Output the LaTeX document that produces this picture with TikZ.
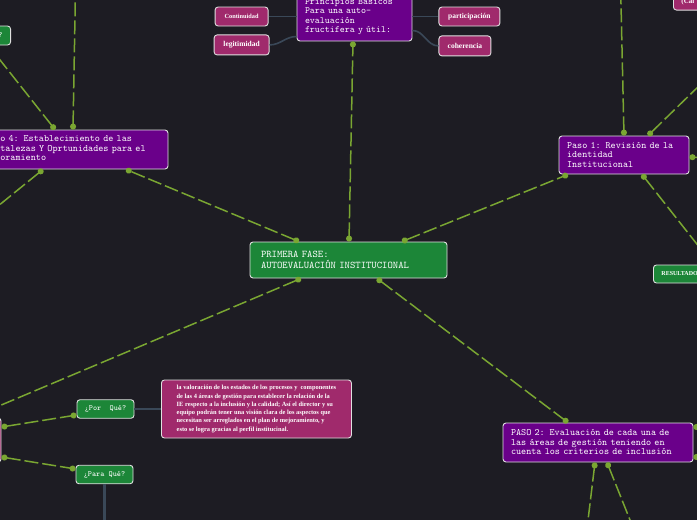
\documentclass[tikz,border=0pt]{standalone}
\usepackage{fontspec}
\setmainfont{Liberation Serif}
\usetikzlibrary{positioning,arrows.meta}

\definecolor{bgdark}{RGB}{29,28,35}
\definecolor{mapgreen}{RGB}{28,134,56}
\definecolor{mappurple}{RGB}{106,0,138}
\definecolor{mappink}{RGB}{160,42,108}
\definecolor{linkgreen}{RGB}{122,166,50}
\definecolor{tiegray}{RGB}{58,72,88}

\begin{document}
\begin{tikzpicture}[x=1pt, y=-1pt,
    box/.style={draw=white!88!black, line width=0.9pt, rounded corners=3pt, text=white, align=left, inner sep=0pt},
    phasebox/.style={box, fill=mapgreen, font=\ttfamily\fontsize{10.2}{10.5}\selectfont, inner xsep=11pt, text width=175pt, minimum height=36pt},
    stepbox/.style={box, fill=mappurple, font=\ttfamily\fontsize{9.7}{9.5}\selectfont, inner xsep=8pt},
    keybox/.style={box, fill=mappink, font=\bfseries\fontsize{7.5}{9}\selectfont},
    askbox/.style={box, fill=mapgreen, font=\ttfamily\fontsize{7.8}{8}\selectfont, minimum width=57pt, minimum height=18.5pt},
    link/.style={draw=linkgreen, line width=1.5pt, dash pattern=on 14pt off 4pt, {Circle[length=6pt]}-{Circle[length=6pt]}},
    tie/.style={draw=tiegray, line width=1.6pt}]
\path[use as bounding box, clip] (0,0) rectangle (697,520);
\fill[bgdark] (0,0) rectangle (697,520);

\node[phasebox] (main) at (348.5,260) {PRIMERA FASE:\\AUTOEVALUACIÓN INSTITUCIONAL};
\node[stepbox, font=\ttfamily\fontsize{9.5}{9.5}\selectfont, text width=99pt, minimum height=49pt] (princ) at (354.5,16.5) {Principios Basicos\\Para una auto-\\evaluación\\fructifera y útil:};
\node[stepbox, text width=114pt, minimum height=38pt] (paso1) at (624,155) {Paso 1: Revisión de la\\identidad\\Institucional};
\node[stepbox, text width=175pt, minimum height=39pt] (paso4) at (72.5,149.5) {Paso 4: Establecimiento de las\\Fortalezas Y Oprtunidades para el\\Mejoramiento};
\node[stepbox, text width=174pt, minimum height=39pt] (paso2) at (598,442.5) {PASO 2: Evaluación de cada una de\\las áreas de gestión teniendo en\\cuenta los criterios de inclusión};

\node[keybox, font=\bfseries\fontsize{6.3}{8}\selectfont, minimum width=53pt, minimum height=19pt, left=28pt of princ] (cont) {Continuidad};
\node[keybox, minimum width=55pt, minimum height=20pt, below=8pt of cont] (legit) {legitimidad};
\node[keybox, minimum width=61pt, minimum height=19pt, right=26pt of princ] (part) {participación};
\node[keybox, minimum width=52pt, minimum height=20pt, below right=9pt and 0pt of part.south west] (coher) {coherencia};

\node[askbox] (porque) at (105.5,409) {¿Por\ \ Qué?};
\node[askbox] (paraque) at (104.5,474.5) {¿Para Qué?};
\node[keybox, font=\bfseries\fontsize{6.4}{8.3}\selectfont, minimum width=190pt, minimum height=58pt, anchor=west] (desc) at (161,409) {la valoración de los estados de los procesos y\ \ componentes\\de las 4 áreas de gestión para establecer la relación de la\\IE respecto a la inclusión y la calidad; Así el director y su\\equipo podrán tener una visión clara de los aspectos que\\necesitan ser arreglados en el plan de mejoramiento, y\\esto se logra gracias al perfil institucinal.};

\node[keybox, minimum width=80pt, minimum height=44pt, anchor=east] (leftnode) at (1.5,440) {};
\node[askbox, minimum width=52pt, minimum height=19pt, text width=36pt, align=right, anchor=east] (topL) at (11,35.5) {?};
\node[keybox, fill=mapgreen, font=\bfseries\fontsize{6}{7}\selectfont, inner xsep=8pt, text width=64pt, minimum height=18pt, anchor=west] (resul) at (653,274) {RESULTADO};
\node[keybox, font=\bfseries\fontsize{7}{8}\selectfont, minimum width=60pt, minimum height=16pt, text width=44pt, anchor=south west] (topR) at (673,10.5) {(Cal};

\coordinate (up4) at (76,-40);
\coordinate (down4) at (-40,237);
\coordinate (up1) at (620,-40);
\coordinate (upright1) at (740,46);
\coordinate (right1) at (740,160);
\coordinate (right2a) at (720,427);
\coordinate (right2b) at (720,457);
\coordinate (down2a) at (585,545);
\coordinate (down2b) at (640,545);
\coordinate (downask) at (104.5,545);

\draw[tie] (cont) -- (princ);
\draw[tie] (legit.east) to[out=0, in=180] ([yshift=-20pt]princ.west);
\draw[tie] (princ) -- (part);
\draw[tie] ([yshift=-14pt]princ.east) to[out=0, in=180] (coher.west);
\draw[tie] (porque) -- (desc);
\draw[tie, line width=3pt] (paraque) -- (downask);

\draw[link] ([xshift=0.5pt]main.north) -- ([xshift=-1.5pt]princ.south);
\draw[link] ([xshift=53.5pt]main.north) -- ([xshift=-56pt]paso1.south);
\draw[link] ([xshift=-49.5pt]main.north) -- ([xshift=53.5pt]paso4.south);
\draw[link] ([xshift=-47.5pt]main.south) -- ([xshift=10.5pt]leftnode.north);
\draw[link] ([xshift=28.5pt]main.south) -- ([xshift=-30pt]paso2.north);
\draw[link] ([xshift=-17.5pt]paso4.north) -- ([xshift=4pt]topL.south);
\draw[link] ([xshift=0.5pt]paso4.north) -- (up4);
\draw[link] ([xshift=-29.5pt]paso4.south) -- (down4);
\draw[link] (paso1.north) -- (up1);
\draw[link] ([xshift=24pt]paso1.north) -- (upright1);
\draw[link] ([yshift=-2pt]paso1.east) -- (right1);
\draw[link] ([xshift=18pt]paso1.south) -- ([xshift=60pt]resul.north west);
\draw[link] ([yshift=15.5pt]paso2.east) -- (right2a);
\draw[link] ([yshift=-14.5pt]paso2.east) -- (right2b);
\draw[link] ([xshift=-3pt]paso2.south) -- (down2a);
\draw[link] ([xshift=9pt]paso2.south) -- (down2b);
\draw[link] ([yshift=13pt]leftnode.east) -- ([yshift=-6pt]porque.west);
\draw[link] ([yshift=-17pt]leftnode.east) -- ([yshift=5.5pt]paraque.west);
\end{tikzpicture}
\end{document}
